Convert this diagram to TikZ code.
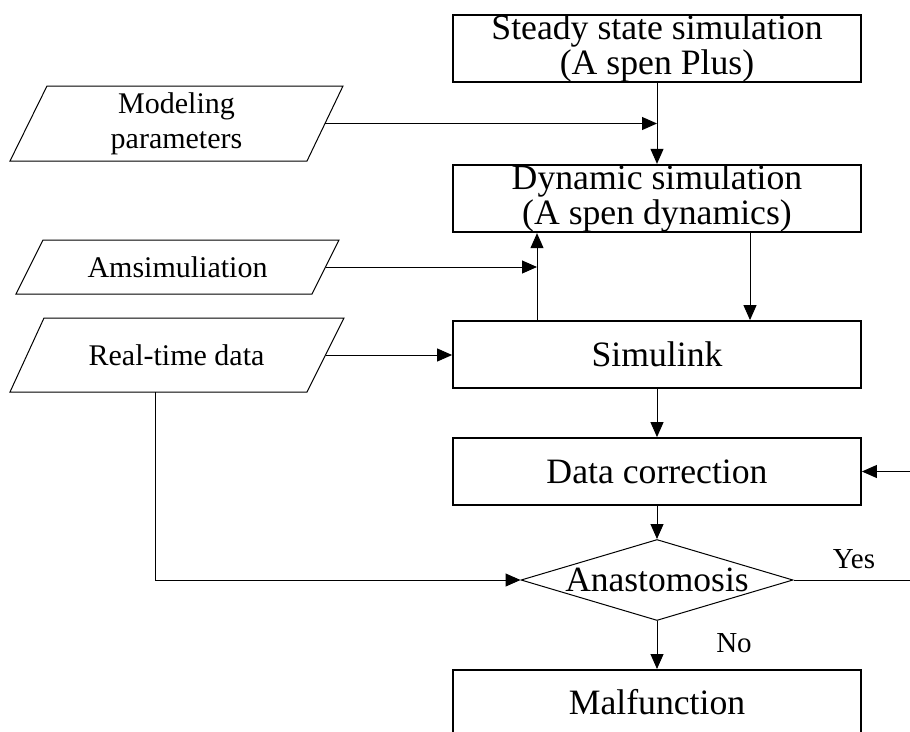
\documentclass[tikz,border=0pt]{standalone}
\usepackage{fontspec}
\setmainfont{Liberation Serif}
\usetikzlibrary{arrows.meta,shapes.geometric}
\begin{document}
\begin{tikzpicture}[x=1pt,y=-1pt,
  procbox/.style={draw, line width=1.8pt, minimum width=408pt, minimum height=67pt,
    inner sep=0pt, align=center, font=\fontsize{35.7}{35}\selectfont},
  decision/.style={draw, diamond, line width=1pt, minimum width=272pt, minimum height=81pt, inner sep=0pt},
  bigtext/.style={inner sep=0pt, font=\fontsize{35.5}{35}\selectfont},
  iotext/.style={inner sep=0pt, align=center, font=\fontsize{30}{35}\selectfont},
  iobox/.style={draw, line width=1pt, line join=miter},
  lbl/.style={inner sep=0pt, font=\fontsize{29}{35}\selectfont},
  conn/.style={draw, line width=1pt, -{Triangle[length=15pt,width=13pt]}},
  plain/.style={draw, line width=1pt}
]
\useasboundingbox (0,0) rectangle (910,731);

% process boxes
\node[procbox] (steady) at (657,48.5) {Steady state simulation\\(A spen Plus)};
\node[procbox] (dyn) at (657,198.5) {Dynamic simulation\\(A spen dynamics)};
\node[procbox] (sim) at (657,354.5) {Simulink};
\node[procbox] (dc) at (657,471.5) {Data correction};
\node[decision] (dia) at (657,580) {};
\node[bigtext] (diatext) at (dia.center) {Anastomosis};
\node[procbox, minimum height=64pt, anchor=north] (malf) at (657,669) {Malfunction};

% input/output parallelograms
\draw[iobox] (47,86) -- (343,86) -- (307,161) -- (10,161) -- cycle;
\node[iotext] (mod) at (176.5,123.5) {Modeling\\parameters};
\coordinate (modR) at (325,123.5);

\draw[iobox] (43,240) -- (339,240) -- (312,294) -- (16,294) -- cycle;
\node[iotext] (ams) at (177.5,267) {Amsimuliation};
\coordinate (amsR) at (325.5,267);

\draw[iobox] (44,318) -- (344,318) -- (307,392) -- (10,392) -- cycle;
\node[iotext] (rt) at (176.5,355) {Real-time data};
\coordinate (rtR) at (326,355);
\coordinate (rtB) at (155,392);

% helper coordinates
\coordinate (upx) at ([xshift=-120pt]sim.north);
\coordinate (dnx) at ([xshift=93pt]dyn.south);
\coordinate (dcIn) at (910,471.5);
\coordinate (yesEnd) at (910,580);

% connectors
\draw[conn] (steady.south) -- (dyn.north);
\draw[conn] (modR) -- (modR -| steady.south);
\draw[conn] (upx) -- (upx |- dyn.south);
\draw[conn] (amsR) -- (amsR -| upx);
\draw[conn] (dnx) -- (dnx |- sim.north);
\draw[conn] (rtR) -- (rtR -| sim.west);
\draw[conn] (sim.south) -- (dc.north);
\draw[conn] (dc.south) -- (dia.north);
\draw[conn] (dcIn) -- (dc.east);
\draw[plain] (dia.east) -- (yesEnd);
\draw[conn] (dia.south) -- (malf.north);
\draw[conn] (rtB) |- (dia.west);

% labels
\node[lbl] (yes) at (854,559) {Yes};
\node[lbl] (no) at (734,643) {No};
\end{tikzpicture}
\end{document}
